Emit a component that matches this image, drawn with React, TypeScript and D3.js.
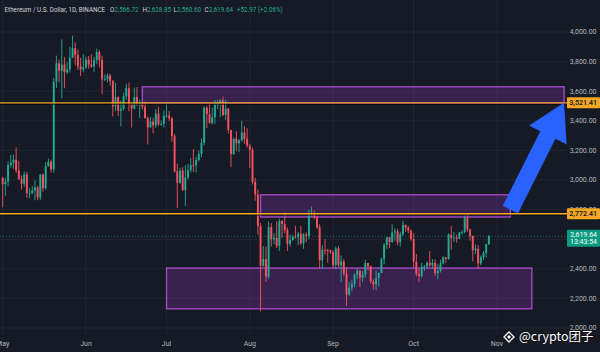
import React from "react";
import * as d3 from "d3";

type Candle = [number, number, number, number]; // open, high, low, close

const mayCandles: Candle[] = [
  [3014, 3022, 2815, 2972], [2972, 3015, 2894, 2988], [2988, 3126, 2958, 3102], [3102, 3168, 3084, 3117],
  [3117, 3171, 3076, 3137], [3137, 3220, 3048, 3064], [3064, 3130, 3000, 3006], [3006, 3030, 2937, 2974],
  [2974, 3058, 2953, 3037], [3037, 3055, 2880, 2912], [2912, 2945, 2877, 2912], [2912, 2958, 2903, 2930],
  [2930, 2997, 2863, 2950], [2950, 2960, 2864, 2882], [2882, 3041, 2864, 3037], [3037, 3044, 2921, 2945],
  [2945, 3120, 2934, 3093], [3093, 3145, 3091, 3123], [3123, 3138, 3050, 3071], [3071, 3690, 3050, 3664],
  [3664, 3840, 3622, 3788], [3788, 3814, 3661, 3738], [3738, 3950, 3550, 3780], [3780, 3830, 3620, 3728],
  [3728, 3795, 3715, 3748], [3748, 3900, 3725, 3826], [3826, 3975, 3825, 3891], [3891, 3930, 3775, 3844],
  [3844, 3880, 3742, 3767], [3767, 3825, 3702, 3747], [3747, 3849, 3728, 3760],
];
const junCandles: Candle[] = [
  [3760, 3833, 3752, 3813], [3813, 3838, 3752, 3780], [3780, 3850, 3757, 3767], [3767, 3832, 3730, 3810],
  [3810, 3887, 3782, 3865], [3865, 3878, 3761, 3812], [3812, 3840, 3580, 3679], [3679, 3714, 3669, 3682],
  [3682, 3720, 3660, 3706], [3706, 3718, 3637, 3667], [3667, 3677, 3430, 3498], [3498, 3658, 3465, 3561],
  [3561, 3563, 3432, 3469], [3469, 3536, 3362, 3481], [3481, 3589, 3468, 3566], [3566, 3650, 3542, 3620],
  [3620, 3660, 3465, 3510], [3510, 3515, 3355, 3484], [3484, 3625, 3476, 3561], [3561, 3628, 3500, 3514],
  [3514, 3545, 3420, 3518], [3518, 3525, 3475, 3494], [3494, 3530, 3415, 3418], [3418, 3430, 3240, 3355],
  [3355, 3426, 3355, 3395], [3395, 3420, 3315, 3368], [3368, 3480, 3353, 3449], [3449, 3494, 3365, 3377],
  [3377, 3401, 3367, 3378], [3378, 3470, 3355, 3433],
];
const julCandles: Candle[] = [
  [3433, 3524, 3420, 3436], [3436, 3465, 3400, 3417], [3417, 3425, 3260, 3296], [3296, 3311, 3050, 3059],
  [3059, 3110, 2810, 2982], [2982, 3082, 2974, 3064], [3064, 3085, 2925, 2932], [2932, 3100, 2825, 3017],
  [3017, 3110, 3005, 3066], [3066, 3150, 3050, 3101], [3101, 3208, 3055, 3100], [3100, 3155, 3050, 3135],
  [3135, 3200, 3125, 3176], [3176, 3280, 3153, 3250], [3250, 3498, 3235, 3488], [3488, 3500, 3350, 3444],
  [3444, 3518, 3380, 3387], [3387, 3490, 3375, 3424], [3424, 3540, 3380, 3507], [3507, 3540, 3480, 3519],
  [3519, 3546, 3425, 3537], [3537, 3563, 3430, 3440], [3440, 3540, 3405, 3481], [3481, 3487, 3315, 3337],
  [3337, 3340, 3087, 3175], [3175, 3287, 3170, 3278], [3278, 3330, 3195, 3248], [3248, 3275, 3190, 3268],
  [3268, 3400, 3260, 3321], [3321, 3365, 3245, 3277], [3277, 3350, 3220, 3232],
];
const augCandles: Candle[] = [
  [3232, 3245, 3080, 3204], [3204, 3220, 2970, 2988], [2988, 3015, 2860, 2902], [2902, 2935, 2630, 2688],
  [2688, 2710, 2112, 2420], [2420, 2555, 2415, 2465], [2465, 2550, 2310, 2347], [2347, 2720, 2330, 2683],
  [2683, 2708, 2550, 2599], [2599, 2640, 2565, 2609], [2609, 2720, 2540, 2555], [2555, 2740, 2520, 2723],
  [2723, 2730, 2610, 2703], [2703, 2780, 2640, 2661], [2661, 2680, 2520, 2569], [2569, 2630, 2550, 2594],
  [2594, 2630, 2590, 2615], [2615, 2690, 2605, 2613], [2613, 2650, 2560, 2637], [2637, 2690, 2560, 2572],
  [2572, 2640, 2535, 2631], [2631, 2645, 2580, 2622], [2622, 2800, 2600, 2762], [2762, 2820, 2750, 2768],
  [2768, 2795, 2735, 2746], [2746, 2760, 2670, 2680], [2680, 2700, 2400, 2457], [2457, 2560, 2400, 2528],
  [2528, 2600, 2495, 2527], [2527, 2535, 2440, 2524], [2524, 2530, 2500, 2513],
];
const sepCandles: Candle[] = [
  [2513, 2525, 2400, 2425], [2425, 2550, 2400, 2538], [2538, 2553, 2410, 2423], [2423, 2490, 2310, 2450],
  [2450, 2465, 2350, 2368], [2368, 2410, 2150, 2226], [2226, 2310, 2215, 2273], [2273, 2323, 2250, 2297],
  [2297, 2370, 2275, 2359], [2359, 2400, 2330, 2388], [2388, 2390, 2278, 2340], [2340, 2385, 2310, 2361],
  [2361, 2460, 2340, 2439], [2439, 2440, 2390, 2417], [2417, 2420, 2300, 2315], [2315, 2330, 2260, 2294],
  [2294, 2390, 2255, 2340], [2340, 2375, 2280, 2371], [2371, 2475, 2370, 2465], [2465, 2575, 2430, 2561],
  [2561, 2615, 2535, 2613], [2613, 2615, 2540, 2581], [2581, 2700, 2575, 2645], [2645, 2675, 2590, 2653],
  [2653, 2670, 2560, 2580], [2580, 2650, 2550, 2633], [2633, 2725, 2620, 2696], [2696, 2700, 2650, 2678],
  [2678, 2690, 2640, 2658], [2658, 2665, 2590, 2602],
];
const octCandles: Candle[] = [
  [2602, 2640, 2410, 2447], [2447, 2500, 2350, 2365], [2365, 2400, 2310, 2350], [2350, 2440, 2340, 2414],
  [2414, 2425, 2385, 2414], [2414, 2450, 2405, 2441], [2441, 2520, 2415, 2422], [2422, 2465, 2400, 2440],
  [2440, 2465, 2350, 2370], [2370, 2430, 2330, 2385], [2385, 2460, 2375, 2437], [2437, 2485, 2430, 2476],
  [2476, 2480, 2440, 2467], [2467, 2640, 2460, 2630], [2630, 2690, 2530, 2608], [2608, 2650, 2580, 2611],
  [2611, 2630, 2575, 2604], [2604, 2650, 2600, 2644], [2644, 2660, 2630, 2648], [2648, 2760, 2640, 2746],
  [2746, 2770, 2650, 2667], [2667, 2670, 2590, 2622], [2622, 2625, 2450, 2525], [2525, 2565, 2500, 2536],
  [2536, 2560, 2400, 2437], [2437, 2490, 2425, 2479], [2479, 2520, 2460, 2507], [2507, 2570, 2475, 2566],
  [2566.72, 2628.85, 2560.6, 2619.64],
];

const priceTicks = [2000, 2200, 2400, 2600, 2800, 3000, 3200, 3400, 3600, 3800, 4000];
const monthLabels = ["May", "Jun", "Jul", "Aug", "Sep", "Oct", "Nov"];
const levelLines = [3521.41, 2772.41];
const lastPrice = 2619.64;
const countdown = "13:43:54";
// zones: [startDate, endDate, topPrice, bottomPrice]
const zones: [string, string, number, number][] = [
  ["2024-06-22", "2024-11-26", 3630, 3520],
  ["2024-08-05", "2024-11-06", 2900, 2750],
  ["2024-07-01", "2024-11-14", 2405, 2130],
];
const arrowTail: [string, number] = ["2024-11-06", 2800];
const arrowTip: [string, number] = ["2024-11-26", 3521.41];

const W = 600;
const H = 352;
const PLOT_R = 567;
const PLOT_B = 335;

const GREEN = "#22ab94";
const RED = "#f7525f";
const BG = "#161a25";
const GRID = "#222633";
const AXIS_TXT = "#b2b5be";
const ORANGE = "#f5a623";
const FONT = "Roboto, 'DejaVu Sans', sans-serif";

export default function App() {
  const start = new Date(Date.UTC(2024, 4, 1));
  const end = new Date(Date.UTC(2024, 10, 1));
  const x = d3.scaleUtc().domain([start, end]).range([2.7, 2.7 + 184 * 2.686]);
  const y = d3.scaleLinear().domain([2000, 4000]).range([328, 32]);

  const all = [...mayCandles, ...junCandles, ...julCandles, ...augCandles, ...sepCandles, ...octCandles];
  const candles = all.map((c, i) => ({
    date: d3.utcDay.offset(start, i),
    o: c[0], h: c[1], l: c[2], c: c[3],
  }));
  const bw = 1.9;
  const fmt = d3.format(",.2f");
  const months = d3.utcMonth.range(start, d3.utcDay.offset(end, 1));
  const pd = (s: string) => new Date(s + "T00:00:00Z");

  // arrow geometry
  const tx = x(pd(arrowTail[0])), ty = y(arrowTail[1]);
  const px = x(pd(arrowTip[0])), py = y(arrowTip[1]);
  const L = Math.hypot(px - tx, py - ty);
  const ux = (px - tx) / L, uy = (py - ty) / L;
  const nx = -uy, ny = ux;
  const headLen = 36, shaftW = 8.5, headW = 21;
  const hx = px - ux * headLen, hy = py - uy * headLen;
  const arrowPts = [
    [tx - nx * shaftW, ty - ny * shaftW],
    [hx - nx * shaftW, hy - ny * shaftW],
    [hx - nx * headW, hy - ny * headW],
    [px, py],
    [hx + nx * headW, hy + ny * headW],
    [hx + nx * shaftW, hy + ny * shaftW],
    [tx + nx * shaftW, ty + ny * shaftW],
  ].map((p) => p.join(",")).join(" ");

  const header = [
    { t: "Ethereum / U.S. Dollar, 1D, BINANCE", x: 4.5, c: "#d1d4dc" },
    { t: "O", x: 110, c: "#d1d4dc" }, { t: "2,566.72", x: 114.5, c: GREEN },
    { t: "H", x: 142.5, c: "#d1d4dc" }, { t: "2,628.85", x: 147, c: GREEN },
    { t: "L", x: 173.5, c: "#d1d4dc" }, { t: "2,560.60", x: 177, c: GREEN },
    { t: "C", x: 204.5, c: "#d1d4dc" }, { t: "2,619.64", x: 209, c: GREEN },
    { t: "+52.97 (+2.06%)", x: 237, c: GREEN },
  ];

  // the last-price tag fully hides the tick label beneath it
  const lastY = y(lastPrice);
  const visibleTicks = priceTicks.filter((p) => Math.abs(y(p) - (lastY + 2)) > 8.5);

  return (
    <svg width={W} height={H} style={{ position: "fixed", left: 0, top: 0, display: "block" }}
      fontFamily={FONT}>
      <rect x={0} y={0} width={W} height={H} fill={BG} />
      <defs>
        <clipPath id="plot"><rect x={0} y={0} width={PLOT_R} height={PLOT_B} /></clipPath>
      </defs>
      {/* grid */}
      <g clipPath="url(#plot)">
        {priceTicks.map((p) => (
          <line key={p} x1={0} x2={PLOT_R} y1={y(p)} y2={y(p)} stroke={GRID} strokeWidth={1} />
        ))}
        {months.map((m) => (
          <line key={+m} x1={x(m)} x2={x(m)} y1={0} y2={PLOT_B} stroke={GRID} strokeWidth={1} />
        ))}
      </g>
      {/* zones */}
      <g clipPath="url(#plot)">
        {zones.map((z, i) => (
          <rect key={i} x={x(pd(z[0]))} y={y(z[2])} width={x(pd(z[1])) - x(pd(z[0]))}
            height={y(z[3]) - y(z[2])} fill="rgba(128,50,160,0.33)" stroke="#a348c4" strokeWidth={1.4} />
        ))}
      </g>
      {/* last price dotted line */}
      <line x1={0} x2={PLOT_R} y1={lastY} y2={lastY} stroke={GREEN} strokeOpacity={0.55}
        strokeDasharray="1,2" />
      {/* candles */}
      <g clipPath="url(#plot)">
        {candles.map((d, i) => {
          const col = d.c >= d.o ? GREEN : RED;
          const cx = x(d.date);
          const top = y(Math.max(d.o, d.c));
          const bot = y(Math.min(d.o, d.c));
          return (
            <g key={i}>
              <line x1={cx} x2={cx} y1={y(d.h)} y2={y(d.l)} stroke={col} strokeWidth={0.9} />
              <rect x={cx - bw / 2} y={top} width={bw} height={Math.max(0.8, bot - top)} fill={col} />
            </g>
          );
        })}
      </g>
      {/* level lines */}
      {levelLines.map((p) => (
        <g key={p}>
          <line x1={0} x2={PLOT_R} y1={y(p) + 1.2} y2={y(p) + 1.2} stroke="#000" strokeOpacity={0.7} strokeWidth={1.2} />
          <line x1={0} x2={PLOT_R} y1={y(p)} y2={y(p)} stroke={ORANGE} strokeWidth={1.4} />
        </g>
      ))}
      {/* arrow */}
      <polygon points={arrowPts} fill="#2962ff" />
      {/* price axis */}
      {visibleTicks.map((p) => (
        <text key={p} x={596.5} y={y(p)} dy="0.35em" textAnchor="end" fontSize={7} fill={AXIS_TXT}>
          {fmt(p)}
        </text>
      ))}
      {levelLines.map((p) => (
        <g key={p}>
          <rect x={567} y={y(p) - 5.5} width={33} height={11} fill={ORANGE} rx={1} />
          <text x={597} y={y(p)} dy="0.35em" textAnchor="end" fontSize={7} fill="#131722" fontWeight={600}>
            {fmt(p)}
          </text>
        </g>
      ))}
      <g>
        <rect x={567} y={lastY - 6.5} width={33} height={17} fill="#089981" rx={1} />
        <text x={597} y={lastY - 1.5} dy="0.35em" textAnchor="end" fontSize={7} fill="#ffffff">
          {fmt(lastPrice)}
        </text>
        <text x={597} y={lastY + 5.5} dy="0.35em" textAnchor="end" fontSize={7} fill="#ffffff">
          {countdown}
        </text>
      </g>
      {/* time axis */}
      {months.map((m, i) => (
        <text key={+m} x={x(m)} y={344} dy="0.35em" textAnchor="middle" fontSize={7} fill={AXIS_TXT}>
          {monthLabels[i]}
        </text>
      ))}
      {/* header */}
      {header.map((h, i) => (
        <text key={i} x={h.x} y={10} dy="0.35em" fontSize={6.3} fill={h.c}>{h.t}</text>
      ))}
      {/* watermark */}
      <g transform="translate(509,337)">
        <path d="M0,-5 L5,0 L0,5 L-5,0 Z" fill="none" stroke="#ffffff" strokeWidth={1.3} />
        <path d="M0,-2 L2,0 L0,2 L-2,0 Z" fill="#ffffff" />
      </g>
      <text x={519} y={341} fontSize={12.5} fill="#ffffff" fontFamily="'Noto Sans CJK SC', 'Noto Sans', sans-serif"
        style={{ paintOrder: "stroke" }} stroke="#000" strokeOpacity={0.35} strokeWidth={1.5}>
        @crypto团子
      </text>
    </svg>
  );
}
